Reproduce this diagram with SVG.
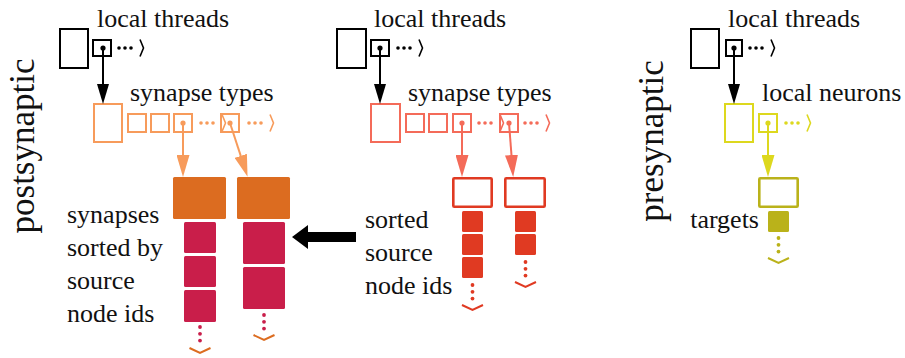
<svg xmlns="http://www.w3.org/2000/svg" xmlns:xlink="http://www.w3.org/1999/xlink" width="905" height="358" viewBox="0 0 905 358">
  <style>
    .box { fill: #fff; stroke-width: 2; }
    .k { stroke: #000; }
    .o { stroke: #F79B5B; }
    .s { stroke: #F46B59; }
    .y { stroke: #DDD81E; }
    .thick { fill: #fff; stroke-width: 2.6; }
    .arr { fill: none; stroke-width: 2; }
  </style>
  <defs>
    <!-- three dots followed by an angle bracket: "continues to the right" -->
    <g id="hmore">
      <circle cx="0" cy="0" r="1.8" fill="currentColor"/>
      <circle cx="6" cy="0" r="1.8" fill="currentColor"/>
      <circle cx="12" cy="0" r="1.8" fill="currentColor"/>
      <polyline points="21,-8.5 24.5,0 21,8.5" fill="none" stroke="currentColor" stroke-width="1.6"/>
    </g>
    <!-- three dots stacked vertically: "continues downwards" -->
    <g id="vdots">
      <circle cx="0" cy="0" r="1.9" fill="currentColor"/>
      <circle cx="0" cy="6.8" r="1.9" fill="currentColor"/>
      <circle cx="0" cy="13.6" r="1.9" fill="currentColor"/>
    </g>
    <polyline id="chev" points="-10.5,0 0,5 10.5,0" fill="none" stroke="currentColor" stroke-width="2"/>
    <marker id="ah-k" viewBox="0 0 20 12" refX="8" refY="6" markerWidth="20" markerHeight="12" markerUnits="userSpaceOnUse" orient="auto">
      <path d="M0,0 L20,6 L0,12 Z" fill="#000"/>
    </marker>
    <marker id="ah-o" viewBox="0 0 22 13" refX="8" refY="6.5" markerWidth="22" markerHeight="13" markerUnits="userSpaceOnUse" orient="auto">
      <path d="M0,0 L22,6.5 L0,13 Z" fill="#F79B5B"/>
    </marker>
    <marker id="ah-s" viewBox="0 0 22 13" refX="8" refY="6.5" markerWidth="22" markerHeight="13" markerUnits="userSpaceOnUse" orient="auto">
      <path d="M0,0 L22,6.5 L0,13 Z" fill="#F46B59"/>
    </marker>
    <marker id="ah-y" viewBox="0 0 22 13" refX="8" refY="6.5" markerWidth="22" markerHeight="13" markerUnits="userSpaceOnUse" orient="auto">
      <path d="M0,0 L22,6.5 L0,13 Z" fill="#DDD81E"/>
    </marker>
  </defs>

  <g font-family="'Liberation Serif', 'Times New Roman', serif" fill="#111" font-size="26">

  <!-- side captions -->
  <text font-size="35" text-anchor="middle" transform="translate(34,146) rotate(-90)">postsynaptic</text>
  <text font-size="35" text-anchor="middle" transform="translate(663,141) rotate(-90)">presynaptic</text>

  <!-- ===== postsynaptic, synapses sorted by source ===== -->
  <g id="threads-a">
    <text x="97" y="27">local threads</text>
    <rect class="box k" x="60" y="29" width="28" height="39"/>
    <rect class="box k" x="93" y="40" width="18" height="16"/>
    <circle cx="103" cy="48" r="2.6" fill="#000"/>
    <use xlink:href="#hmore" x="119" y="48" color="#000"/>
  </g>
  <g id="types-a">
    <text x="130" y="101">synapse types</text>
    <rect class="box o" x="94" y="104" width="28" height="38"/>
    <rect class="box o" x="128" y="114" width="18" height="18"/>
    <rect class="box o" x="151" y="114" width="18" height="18"/>
    <rect class="box o" x="174" y="114" width="18" height="18"/>
    <rect class="box o" x="221" y="114" width="18" height="18"/>
    <circle cx="183" cy="123" r="2.6" fill="#F79B5B"/>
    <circle cx="230" cy="123" r="2.6" fill="#F79B5B"/>
    <use xlink:href="#hmore" x="201" y="123" color="#F79B5B"/>
    <use xlink:href="#hmore" x="249" y="123" color="#F79B5B"/>
  </g>
  <g id="synapses-a1">
    <rect x="173" y="177" width="53" height="42" rx="1.5" fill="#DC6C20"/>
    <rect x="184" y="222" width="32" height="31" rx="1.5" fill="#C91E4A"/>
    <rect x="184" y="256" width="32" height="31" rx="1.5" fill="#C91E4A"/>
    <rect x="184" y="290" width="32" height="32" rx="1.5" fill="#C91E4A"/>
    <use xlink:href="#vdots" x="200" y="327" color="#C91E4A"/>
    <use xlink:href="#chev" x="200" y="348" color="#DC6C20"/>
  </g>
  <g id="synapses-a2">
    <rect x="237" y="177" width="53" height="42" rx="1.5" fill="#DC6C20"/>
    <rect x="243" y="222" width="42" height="42" rx="1.5" fill="#C91E4A"/>
    <rect x="243" y="267" width="42" height="42" rx="1.5" fill="#C91E4A"/>
    <use xlink:href="#vdots" x="264" y="315" color="#C91E4A"/>
    <use xlink:href="#chev" x="264" y="335" color="#DC6C20"/>
  </g>
  <g id="caption-a">
    <text x="67" y="223">synapses</text>
    <text x="67" y="256">sorted by</text>
    <text x="67" y="289">source</text>
    <text x="67" y="322">node ids</text>
  </g>

  <!-- ===== postsynaptic, sorted source node ids ===== -->
  <g id="threads-b">
    <text x="374" y="27">local threads</text>
    <rect class="box k" x="337" y="29" width="29" height="39"/>
    <rect class="box k" x="371" y="40" width="18" height="16"/>
    <circle cx="380" cy="48" r="2.6" fill="#000"/>
    <use xlink:href="#hmore" x="398" y="48" color="#000"/>
  </g>
  <g id="types-b">
    <text x="408" y="101">synapse types</text>
    <rect class="box s" x="371" y="104" width="29" height="38"/>
    <rect class="box s" x="406" y="114" width="18" height="18"/>
    <rect class="box s" x="429" y="114" width="18" height="18"/>
    <rect class="box s" x="453" y="114" width="18" height="18"/>
    <rect class="box s" x="500" y="114" width="18" height="18"/>
    <circle cx="462" cy="123" r="2.6" fill="#F46B59"/>
    <circle cx="509" cy="123" r="2.6" fill="#F46B59"/>
    <use xlink:href="#hmore" x="479" y="123" color="#F46B59"/>
    <use xlink:href="#hmore" x="525" y="123" color="#F46B59"/>
  </g>
  <g id="sources-b1">
    <rect class="thick" x="453.3" y="178.3" width="38.4" height="28.4" rx="1" stroke="#E03A22"/>
    <rect x="462" y="211" width="21" height="21" rx="1.5" fill="#E03A22"/>
    <rect x="462" y="234" width="21" height="21" rx="1.5" fill="#E03A22"/>
    <rect x="462" y="257" width="21" height="21" rx="1.5" fill="#E03A22"/>
    <use xlink:href="#vdots" x="472.5" y="285" color="#E03A22"/>
    <use xlink:href="#chev" x="472.5" y="305" color="#E03A22"/>
  </g>
  <g id="sources-b2">
    <rect class="thick" x="505.3" y="178.3" width="39.4" height="28.4" rx="1" stroke="#E03A22"/>
    <rect x="515" y="211" width="21" height="21" rx="1.5" fill="#E03A22"/>
    <rect x="515" y="234" width="21" height="21" rx="1.5" fill="#E03A22"/>
    <use xlink:href="#vdots" x="525.5" y="262" color="#E03A22"/>
    <use xlink:href="#chev" x="525.5" y="282" color="#E03A22"/>
  </g>
  <g id="caption-b">
    <text x="365" y="228">sorted</text>
    <text x="365" y="261">source</text>
    <text x="365" y="294">node ids</text>
  </g>

  <!-- ===== presynaptic ===== -->
  <g id="threads-c">
    <text x="728" y="27">local threads</text>
    <rect class="box k" x="691" y="29" width="28" height="39"/>
    <rect class="box k" x="726" y="40" width="16" height="16"/>
    <circle cx="734" cy="48" r="2.6" fill="#000"/>
    <use xlink:href="#hmore" x="750" y="48" color="#000"/>
  </g>
  <g id="neurons-c">
    <text x="762" y="101">local neurons</text>
    <rect class="box y" x="725" y="104" width="28" height="38"/>
    <rect class="box y" x="759" y="114" width="18" height="18"/>
    <circle cx="768" cy="123" r="2.6" fill="#DDD81E"/>
    <use xlink:href="#hmore" x="786" y="123" color="#DDD81E"/>
  </g>
  <g id="targets-c">
    <rect class="thick" x="759.3" y="178.3" width="38.4" height="28.4" rx="1" stroke="#BAB21A"/>
    <rect x="768" y="211" width="21" height="21" rx="1.5" fill="#BAB21A"/>
    <use xlink:href="#vdots" x="778.5" y="238" color="#BAB21A"/>
    <use xlink:href="#chev" x="778.5" y="258" color="#BAB21A"/>
    <text x="759" y="228" text-anchor="end">targets</text>
  </g>

  </g>

  <!-- connectors -->
  <g id="connectors">
    <line class="arr" x1="103" y1="48" x2="103" y2="92" stroke="#000" marker-end="url(#ah-k)"/>
    <line class="arr" x1="380" y1="48" x2="380" y2="92" stroke="#000" marker-end="url(#ah-k)"/>
    <line class="arr" x1="734" y1="48" x2="734" y2="92" stroke="#000" marker-end="url(#ah-k)"/>
    <line class="arr" x1="183" y1="123" x2="183" y2="163" stroke="#F79B5B" marker-end="url(#ah-o)"/>
    <line class="arr" x1="230" y1="123" x2="243.2" y2="163.4" stroke="#F79B5B" marker-end="url(#ah-o)"/>
    <line class="arr" x1="462" y1="123" x2="462" y2="163" stroke="#F46B59" marker-end="url(#ah-s)"/>
    <line class="arr" x1="509" y1="123" x2="512.1" y2="163" stroke="#F46B59" marker-end="url(#ah-s)"/>
    <line class="arr" x1="768" y1="123" x2="768" y2="163" stroke="#DDD81E" marker-end="url(#ah-y)"/>
    <!-- thick arrow from the sorted ids towards the synapse columns -->
    <path d="M356,232 L308,232 L308,225 L292,237 L308,249 L308,242 L356,242 Z" fill="#000"/>
  </g>
</svg>
